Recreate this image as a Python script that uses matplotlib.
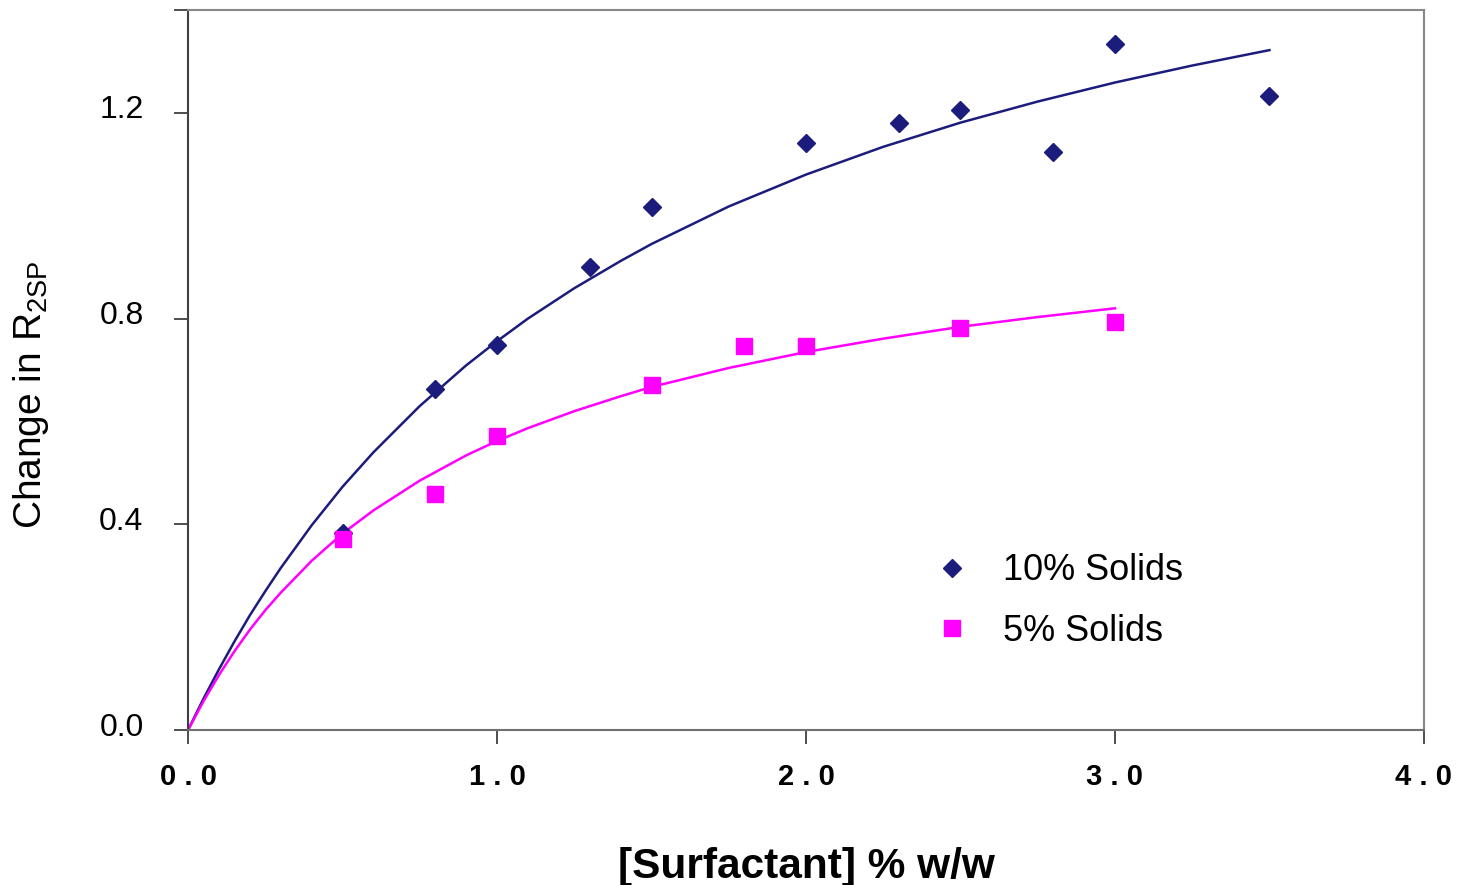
import matplotlib
matplotlib.use("Agg")
import matplotlib.pyplot as plt
import matplotlib.transforms as mtransforms

plt.rcParams["font.family"] = ["Liberation Sans", "DejaVu Sans"]

# measured points
conc_10 = [0.5, 0.8, 1.0, 1.3, 1.5, 2.0, 2.3, 2.5, 2.8, 3.0, 3.5]
r2sp_10 = [0.384, 0.663, 0.748, 0.901, 1.017, 1.141, 1.180, 1.205, 1.124, 1.333, 1.233]

conc_5 = [0.5, 0.8, 1.0, 1.5, 1.8, 2.0, 2.5, 3.0]
r2sp_5 = [0.372, 0.459, 0.572, 0.671, 0.746, 0.746, 0.781, 0.793]

# fitted curves
fit_x_10 = [0, 0.05, 0.1, 0.15, 0.2, 0.25, 0.3, 0.4, 0.5, 0.6, 0.75, 0.9, 1.0, 1.1,
            1.25, 1.4, 1.5, 1.75, 2.0, 2.25, 2.5, 2.75, 3.0, 3.25, 3.5]
fit_y_10 = [0, 0.061, 0.118, 0.172, 0.223, 0.270, 0.315, 0.398, 0.473, 0.540, 0.630, 0.709, 0.756, 0.800,
            0.859, 0.912, 0.945, 1.018, 1.080, 1.134, 1.181, 1.222, 1.259, 1.292, 1.322]

fit_x_5 = [0, 0.05, 0.1, 0.15, 0.2, 0.25, 0.3, 0.4, 0.5, 0.6, 0.75, 0.9, 1.0, 1.1,
           1.25, 1.4, 1.5, 1.75, 2.0, 2.25, 2.5, 2.75, 3.0]
fit_y_5 = [0, 0.056, 0.107, 0.153, 0.195, 0.233, 0.267, 0.329, 0.382, 0.427, 0.485, 0.534, 0.562, 0.587,
           0.620, 0.649, 0.667, 0.704, 0.735, 0.761, 0.784, 0.803, 0.820]

x_ticks = [0, 1, 2, 3, 4]
x_labels = ["0 . 0", "1 . 0", "2 . 0", "3 . 0", "4 . 0"]
y_ticks = [0, 0.4, 0.8, 1.2, 1.4]
y_labels = ["0.0", "0.4", "0.8", "1.2", ""]

navy = "#1c1c7c"
magenta = "#ff00ff"

fig = plt.figure(figsize=(14.6, 8.85), dpi=100)
ax = fig.add_axes([0.1288, 0.1751, 0.8465, 0.8136])

ax.plot(fit_x_10, fit_y_10, color=navy, linewidth=1.8)
ax.plot(fit_x_5, fit_y_5, color=magenta, linewidth=1.8)
ax.plot(conc_10, r2sp_10, "D", color=navy, markersize=9, linestyle="none", label="10% Solids")
ax.plot(conc_5, r2sp_5, "s", color=magenta, markersize=11, linestyle="none", label="5% Solids")

ax.set_xlim(0, 4)
ax.set_ylim(0, 1.4)
ax.set_xticks(x_ticks)
ax.set_xticklabels(x_labels, fontsize=21, fontweight="bold")
ax.set_yticks(y_ticks)
ax.set_yticklabels(y_labels, fontsize=23)
ax.tick_params(axis="both", direction="out", length=10, width=1.2, color="#303030")
ax.tick_params(axis="x", pad=14)
ax.tick_params(axis="y", pad=22)

# y labels sit a little above their ticks in the original
shift = mtransforms.ScaledTranslation(0, 6 / 100, fig.dpi_scale_trans)
for lbl in ax.get_yticklabels():
    lbl.set_transform(lbl.get_transform() + shift)

for side in ["top", "right"]:
    ax.spines[side].set_color("#888888")
    ax.spines[side].set_linewidth(1.5)
ax.spines["left"].set_color("#404040")
ax.spines["bottom"].set_color("#707070")
ax.spines["left"].set_linewidth(1.5)
ax.spines["bottom"].set_linewidth(1.5)

ax.set_xlabel("[Surfactant] % w/w", fontsize=30.5, fontweight="bold", labelpad=40)
ax.set_ylabel("Change in R$_{\\mathregular{2SP}}$", fontsize=28)
ax.yaxis.set_label_coords(-0.111, 0.465)

ax.legend(loc="upper left", bbox_to_anchor=(0.6036, 0.2455), frameon=False,
          fontsize=26, handlelength=1.0, handletextpad=0.9, labelspacing=0.7,
          borderpad=0, borderaxespad=0, numpoints=1)

fig.savefig("out.png", dpi=100)
